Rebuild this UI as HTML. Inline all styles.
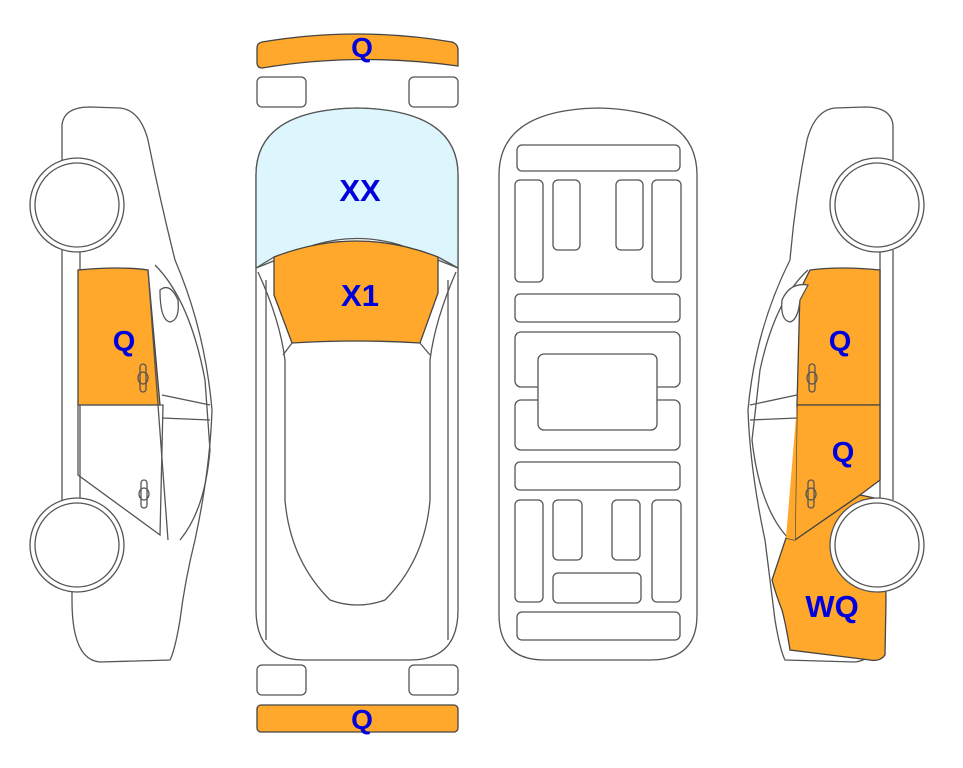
<!DOCTYPE html>
<html><head><meta charset="utf-8"><style>
html,body{margin:0;padding:0;background:#fff;width:963px;height:768px;overflow:hidden}
svg{display:block}
text{font-family:"Liberation Sans",Arial,sans-serif;font-weight:bold;fill:#0000dd;text-anchor:middle}
</style></head><body>
<svg width="963" height="768" viewBox="0 0 963 768" xmlns="http://www.w3.org/2000/svg">
<g fill="none" stroke="#555" stroke-width="1.3">
<!-- LEFT CAR -->
<path d="M62 160 L62 125 Q64 107 90 107 L120 108 Q140 110 148 140 Q160 200 175 260 Q205 330 212 410 Q210 470 195 540 Q185 580 180 620 Q175 650 170 660 L100 662 Q72 660 72 600 L72 590" fill="#fff"/>
<path d="M62 250 L62 500 M80 250 L80 500"/>
<circle cx="77" cy="205" r="47" fill="#fff"/>
<circle cx="77" cy="205" r="42" fill="#fff"/>
<circle cx="77" cy="545" r="47" fill="#fff"/>
<circle cx="77" cy="545" r="42" fill="#fff"/>
<path d="M78 270 L78 405 L160 405 L148 270 Q120 266 78 270Z" fill="#FFA82C" stroke="#444"/>
<path d="M78 405 L78 475 L160 535 L163 405Z"/>
<path d="M148 270 L168 540 M155 265 Q190 300 205 380 L210 450 Q205 510 180 540"/>
<path d="M160 290 Q170 282 178 300 Q180 320 170 322 Q160 320 160 290Z" fill="#fff"/>
<path d="M162 395 L210 405 M162 418 L210 420"/>
<rect x="140" y="364" width="6" height="28" rx="3"/><ellipse cx="143" cy="378" rx="5" ry="6"/>
<rect x="141" y="480" width="6" height="28" rx="3"/><ellipse cx="144" cy="494" rx="5" ry="6"/>
<!-- RIGHT CAR -->
<path d="M893 160 L893 125 Q891 107 865 107 L835 108 Q815 110 807 140 Q795 200 790 260 Q755 330 748 410 Q750 470 765 540 Q770 580 775 620 Q780 650 785 660 L855 662 Q883 660 883 600 L883 590" fill="#fff"/>
<path d="M893 250 L893 500 M880 250 L880 500"/>
<path d="M808 270 Q775 300 760 370 L752 440 Q760 510 790 540"/>
<path d="M810 270 Q840 266 880 270 L880 405 L797 405 L800 290Z" fill="#FFA82C" stroke="#444"/>
<path d="M797 405 L880 405 L880 480 L860 495 L795 540Z" fill="#FFA82C" stroke="#444"/>
<path d="M795 540 L860 495 L884 500 L886 600 L885 655 Q880 662 870 660 L790 650 Q786 625 782 610 Q776 595 772 580 L786 538Z" fill="#FFA82C" stroke="#444"/>
<path d="M797 405 L795 540 L786 538 L797 405" fill="#FFA82C" stroke="none"/>
<path d="M808 285 Q790 282 782 300 Q780 320 790 322 Q798 320 800 300Z" fill="#fff"/>
<path d="M797 395 L750 405 M797 418 L750 420"/>
<circle cx="877" cy="205" r="47" fill="#fff"/>
<circle cx="877" cy="205" r="42" fill="#fff"/>
<circle cx="877" cy="545" r="47" fill="#fff"/>
<circle cx="877" cy="545" r="42" fill="#fff"/>
<rect x="809" y="364" width="6" height="28" rx="3"/><ellipse cx="812" cy="378" rx="5" ry="6"/>
<rect x="808" y="480" width="6" height="28" rx="3"/><ellipse cx="811" cy="494" rx="5" ry="6"/>
<!-- TOP VIEW -->
<path d="M262 42 Q357 26 452 42 Q458 44 458 50 L458 66 Q357 52 262 68 Q257 68 257 62 L257 48 Q257 43 262 42Z" fill="#FFA82C" stroke="#444"/>
<rect x="257" y="77" width="49" height="30" rx="5"/>
<rect x="409" y="77" width="49" height="30" rx="5"/>
<path d="M256 175 Q256 110 357 108 Q458 110 458 175 L458 610 Q458 660 410 660 L305 660 Q256 660 256 610Z" fill="#fff"/>
<path d="M256 175 Q256 110 357 108 Q458 110 458 175 L458 268 L400 245 Q357 232 314 245 L256 268Z" fill="#DDF5FC"/>
<path d="M274 257 Q357 225 438 257 L438 293 L420 343 Q357 339 292 343 L274 295Z" fill="#FFA82C" stroke="#444"/>
<path d="M256 268 L274 257 M458 268 L438 257 M258 272 Q280 320 285 360 L285 500 Q290 560 330 600 Q357 610 385 600 Q425 560 430 500 L430 360 Q435 320 456 272"/>
<path d="M292 343 L283 355 M420 343 L430 355 M266 280 L266 640 M448 280 L448 640"/>
<rect x="257" y="665" width="49" height="30" rx="5"/>
<rect x="409" y="665" width="49" height="30" rx="5"/>
<rect x="257" y="705" width="201" height="27" rx="4" fill="#FFA82C" stroke="#444"/>
<!-- UNDERSIDE -->
<path d="M499 175 Q499 110 598 108 Q697 110 697 175 L697 615 Q697 660 650 660 L545 660 Q499 660 499 615Z" fill="#fff"/>
<rect x="517" y="145" width="163" height="26" rx="5"/>
<rect x="515" y="180" width="28" height="102" rx="5"/>
<rect x="553" y="180" width="27" height="70" rx="5"/>
<rect x="616" y="180" width="27" height="70" rx="5"/>
<rect x="652" y="180" width="29" height="102" rx="5"/>
<rect x="515" y="294" width="165" height="28" rx="5"/>
<rect x="515" y="332" width="165" height="55" rx="6"/>
<rect x="515" y="400" width="165" height="50" rx="6"/>
<rect x="538" y="354" width="119" height="76" rx="6" fill="#fff"/>
<rect x="515" y="462" width="165" height="28" rx="5"/>
<rect x="515" y="500" width="28" height="102" rx="5"/>
<rect x="553" y="500" width="29" height="60" rx="5"/>
<rect x="612" y="500" width="28" height="60" rx="5"/>
<rect x="652" y="500" width="29" height="102" rx="5"/>
<rect x="553" y="573" width="88" height="30" rx="5"/>
<rect x="517" y="612" width="163" height="28" rx="5"/>
</g>
<text x="362" y="57" font-size="28">Q</text>
<text x="360" y="201" font-size="31">XX</text>
<text x="360" y="306" font-size="31">X1</text>
<text x="124" y="351" font-size="29">Q</text>
<text x="840" y="351" font-size="29">Q</text>
<text x="843" y="462" font-size="29">Q</text>
<text x="832" y="617" font-size="31">WQ</text>
<text x="362" y="729" font-size="28">Q</text>
</svg>
</body></html>
